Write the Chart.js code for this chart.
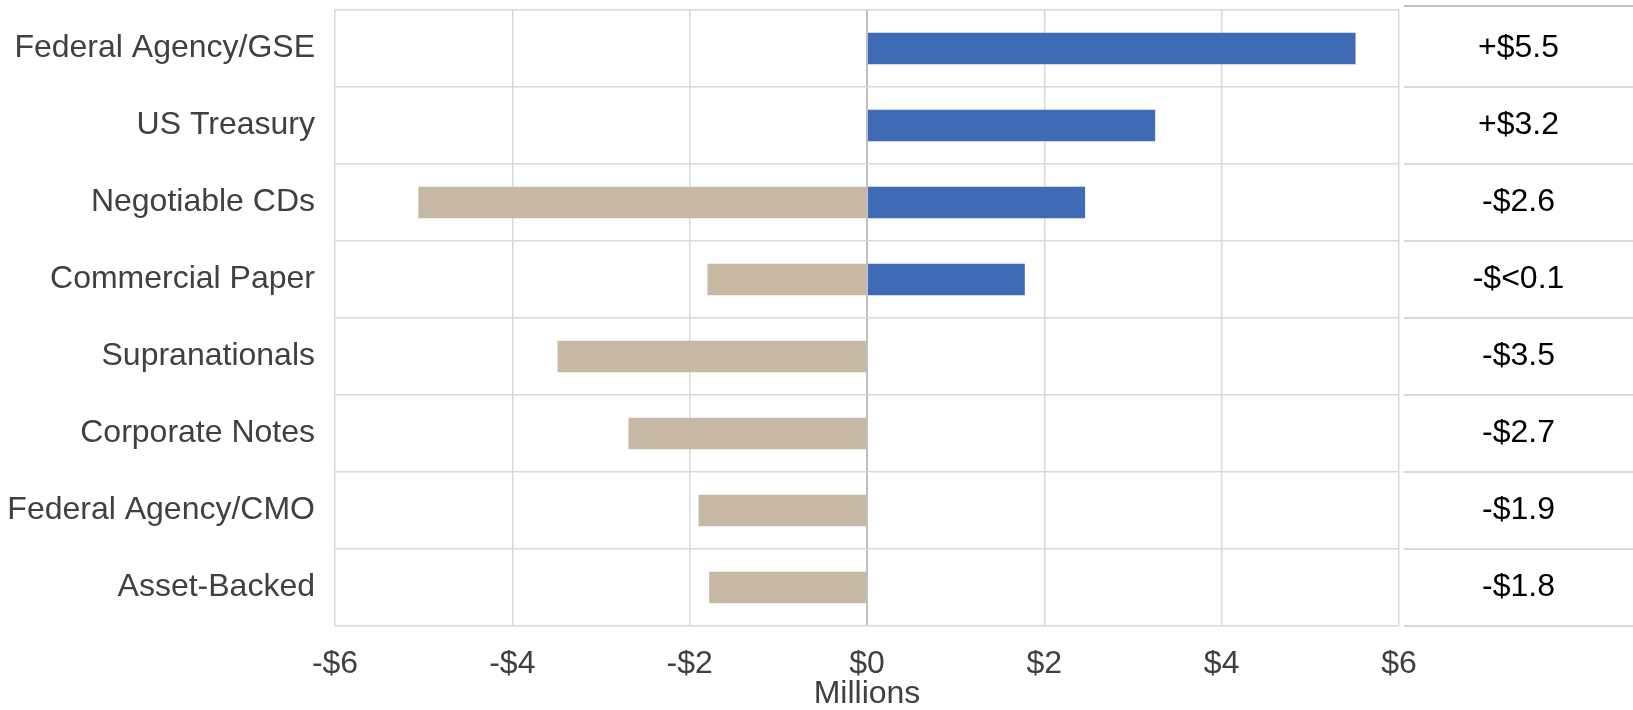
<!DOCTYPE html>
<html>
<head>
<meta charset="utf-8">
<script src="https://cdn.jsdelivr.net/npm/chart.js@4/dist/chart.umd.min.js"></script>
<style>
  html, body { margin: 0; padding: 0; background: #ffffff; }
  #wrap { width: 1633px; height: 710px; }
</style>
</head>
<body>
<div id="wrap"><canvas id="c" width="1633" height="710"></canvas></div>
<script>
const categories = ['Federal Agency/GSE', 'US Treasury', 'Negotiable CDs', 'Commercial Paper', 'Supranationals', 'Corporate Notes', 'Federal Agency/CMO', 'Asset-Backed'];
const purchases = [5.51, 3.25, 2.46, 1.78, 0, 0, 0, 0];
const sales = [0, 0, -5.06, -1.80, -3.49, -2.69, -1.90, -1.78];
const netLabels = ['+$5.5', '+$3.2', '-$2.6', '-$<0.1', '-$3.5', '-$2.7', '-$1.9', '-$1.8'];
const xTicks = [-6, -4, -2, 0, 2, 4, 6];
const axisTitle = 'Millions';

const FONT = "'Liberation Sans', Arial, sans-serif";
const FS = 32;

const tablePlugin = {
  id: 'netTable',
  afterDraw(chart) {
    const ctx = chart.ctx;
    const y = chart.scales.y;
    const ca = chart.chartArea;
    const x0 = ca.right + 5, x1 = chart.width;
    const rowH = (y.bottom - y.top) / categories.length;
    ctx.save();
    ctx.strokeStyle = '#BFBFBF';
    ctx.lineWidth = 2;
    ctx.beginPath();
    ctx.moveTo(x0, ca.top - 4);
    ctx.lineTo(x1, ca.top - 4);
    ctx.stroke();
    ctx.strokeStyle = '#D9D9D9';
    for (let i = 1; i <= categories.length; i++) {
      const yy = y.top + i * rowH;
      ctx.beginPath();
      ctx.moveTo(x0, yy);
      ctx.lineTo(x1, yy);
      ctx.stroke();
    }
    ctx.fillStyle = '#000000';
    ctx.font = FS + 'px ' + FONT;
    ctx.textAlign = 'center';
    ctx.textBaseline = 'middle';
    netLabels.forEach((t, i) => {
      ctx.fillText(t, (x0 + x1) / 2, y.getPixelForValue(i));
    });
    ctx.restore();
  }
};

new Chart(document.getElementById('c'), {
  type: 'bar',
  data: {
    labels: categories,
    datasets: [
      { label: 'Purchases', data: purchases, backgroundColor: '#3F6BB4', borderWidth: 0, barPercentage: 0.41, categoryPercentage: 1 },
      { label: 'Sales/Maturities', data: sales, backgroundColor: '#C7B8A3', borderWidth: 0, barPercentage: 0.41, categoryPercentage: 1 }
    ]
  },
  options: {
    indexAxis: 'y',
    responsive: false,
    animation: false,
    layout: { padding: { left: 0, right: 234, top: 10, bottom: 0 } },
    plugins: { legend: { display: false }, tooltip: { enabled: false } },
    scales: {
      x: {
        stacked: true,
        min: -6, max: 6,
        afterBuildTicks: (s) => { s.ticks = xTicks.map(v => ({ value: v })); },
        afterFit: (s) => { s.height = 84; s.paddingLeft = 0; s.paddingRight = 0; },
        grid: {
          color: (c) => (c.tick && c.tick.value === 0) ? '#BFBFBF' : '#D9D9D9',
          lineWidth: (c) => (c.tick && c.tick.value === 0) ? 2 : 1.5,
          drawTicks: false
        },
        border: { display: false },
        ticks: {
          padding: 22,
          color: '#404040',
          font: { family: FONT, size: FS, lineHeight: 1.0 },
          callback: (v) => (v < 0 ? '-$' : '$') + Math.abs(v)
        },
        title: {
          display: true,
          text: axisTitle,
          color: '#404040',
          padding: 0,
          font: { family: FONT, size: FS, lineHeight: 1.0 }
        }
      },
      y: {
        stacked: true,
        afterFit: (s) => { s.width = 335; s.paddingTop = 0; s.paddingBottom = 0; },
        grid: {
          color: (c) => (c.index === categories.length) ? '#C8C8C8' : '#D9D9D9',
          lineWidth: (c) => (c.index === categories.length) ? 2 : 1.5,
          offset: true,
          drawTicks: false
        },
        border: { display: false },
        ticks: {
          padding: 20,
          color: '#404040',
          font: { family: FONT, size: FS }
        }
      }
    }
  },
  plugins: [tablePlugin]
});
</script>
</body>
</html>
